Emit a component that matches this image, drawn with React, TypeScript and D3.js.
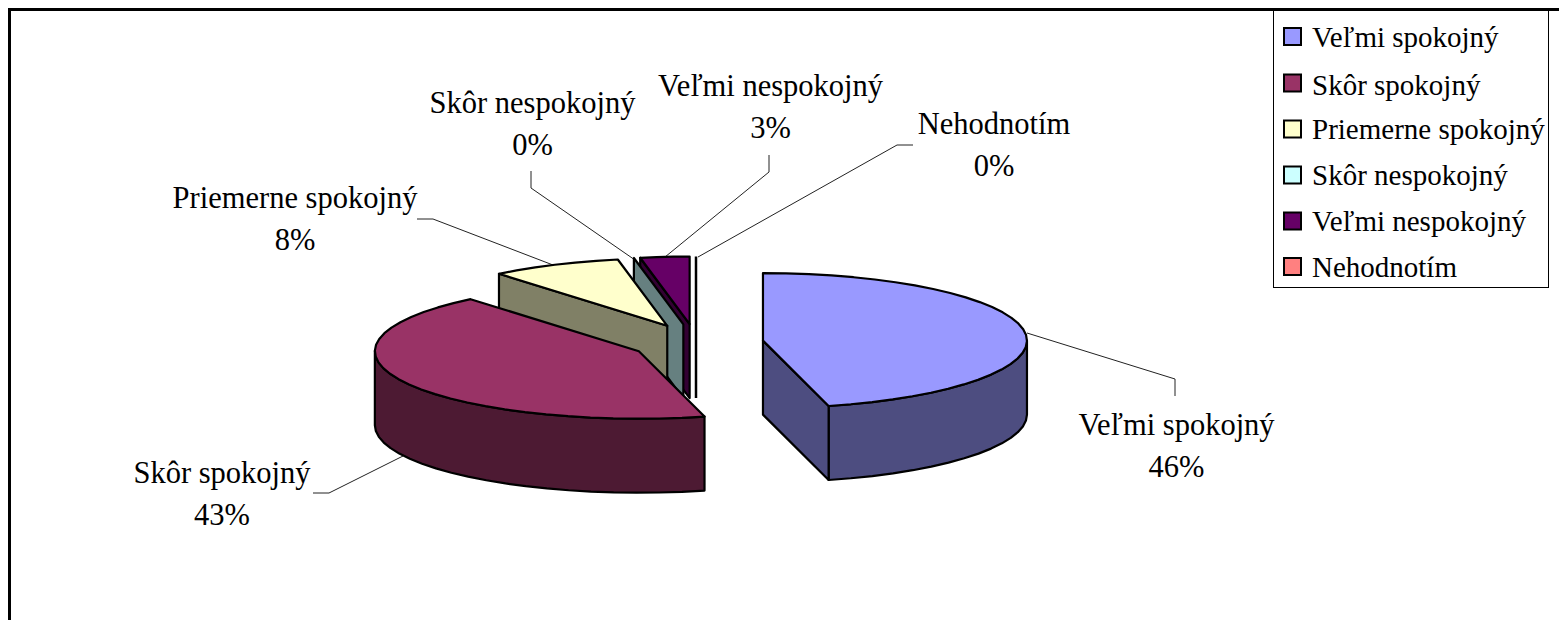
import React from "react";
import * as d3 from "d3";

const categories = ["Veľmi spokojný", "Skôr spokojný", "Priemerne spokojný", "Skôr nespokojný", "Veľmi nespokojný", "Nehodnotím"];
const values = [46, 43, 8, 0, 3, 0];
const explosion = [1, 0.95, 1, 1, 1, 1];
const topColors = ["#9999FF", "#993366", "#FFFFCC", "#CCFFFF", "#660066", "#FF8080"];
const wallColors = ["#4D4D80", "#4D1A33", "#808066", "#668080", "#330033", "#804040"];
const labelPos: [number, number][] = [[1176.5, 435], [222, 483], [295, 208], [532.5, 113], [770.5, 96], [994, 134]];
const leaders: [number, number][][] = [
  [[1027, 333], [1175, 379], [1175, 396]],
  [[403, 456], [329, 493], [313, 493]],
  [[553, 265], [433, 219], [417, 219]],
  [[635, 260], [531, 188], [531, 171]],
  [[665, 257], [769, 172], [769, 155]],
  [[698, 257], [897, 145], [913, 145]],
];
const legendSwatchRows = [36.5, 83, 129, 175, 221, 266.5];
const legendTextRows = [46.7, 95, 139, 185, 231, 277];

const W = 1559, H = 620;
const CX = 696, CY = 343, RX = 264, RY = 67.5, DEPTH = 74, EX = 67.5, EY = 19;
const FONT = "'Liberation Serif', 'Times New Roman', serif";

const pieGen = d3.pie<number>().sort(null).value((d) => d);
const arcs = pieGen(values);
const line = d3.line<[number, number]>();

function sample(a0: number, a1: number, c: [number, number], dy = 0): [number, number][] {
  const n = Math.max(1, Math.ceil(Math.abs(a1 - a0) / 0.09));
  return d3.range(n + 1).map((i) => {
    const a = a0 + ((a1 - a0) * i) / n;
    return [c[0] + RX * Math.sin(a), c[1] - RY * Math.cos(a) + dy] as [number, number];
  });
}

function Slice({ i }: { i: number }) {
  const { startAngle: s, endAngle: e } = arcs[i];
  const m = (s + e) / 2;
  const c: [number, number] = [CX + explosion[i] * EX * Math.sin(m), CY - explosion[i] * EY * Math.cos(m)];
  const stroke = { stroke: "#000", strokeWidth: 2.2, strokeLinejoin: "round" as const };
  const wall = wallColors[i];
  const p = (a: number, dy = 0) => sample(a, a, c, dy)[0];
  const parts: React.ReactNode[] = [];
  if (e - s < 1e-6) {
    // zero-sized slice: only its radial wall can be seen
    const quad: [number, number][] = [c, p(s), p(s, DEPTH), [c[0], c[1] + DEPTH]];
    if (s >= 2 * Math.PI - 1e-6) {
      return <path d={line([p(s), [c[0], c[1] + DEPTH]])!} fill="none" stroke="#000" strokeWidth={2.5} />;
    }
    return <path d={line(quad)! + "Z"} fill={wall} {...stroke} />;
  }
  if (s > Math.PI && s < 2 * Math.PI) {
    parts.push(<path key="sw" d={line([c, p(s), p(s, DEPTH), [c[0], c[1] + DEPTH]])! + "Z"} fill={wall} {...stroke} />);
  }
  const f0 = Math.max(s, Math.PI / 2), f1 = Math.min(e, 1.5 * Math.PI);
  if (f1 > f0) {
    const top = sample(f0, f1, c);
    const bot = sample(f1, f0, c, DEPTH);
    parts.push(<path key="fw" d={line([...top, ...bot])! + "Z"} fill={wall} {...stroke} />);
  }
  if (e > 0 && e < Math.PI) {
    parts.push(<path key="ew" d={line([c, p(e), p(e, DEPTH), [c[0], c[1] + DEPTH]])! + "Z"} fill={wall} {...stroke} />);
  }
  parts.push(<path key="top" d={line([c, ...sample(s, e, c)])! + "Z"} fill={topColors[i]} {...stroke} />);
  return <g>{parts}</g>;
}

export default function App() {
  const total = d3.sum(values);
  const order = d3.range(values.length).reverse();
  return (
    <svg width={W} height={H} style={{ position: "absolute", left: 0, top: 0, display: "block", background: "#fff" }} fontFamily={FONT}>
      <path d={`M9.5 620V9.5H${W}`} fill="none" stroke="#000" strokeWidth={3} />
      {leaders.map((l, i) => (
        <path key={i} d={line(l)!} fill="none" stroke="#222" strokeWidth={1} />
      ))}
      {order.map((i) => <Slice key={i} i={i} />)}
      {categories.map((c, i) => (
        <text key={c} x={labelPos[i][0]} y={labelPos[i][1]} textAnchor="middle" fill="#000" fontSize={30.5}>
          <tspan x={labelPos[i][0]}>{c}</tspan>
          <tspan x={labelPos[i][0]} dy={42}>{d3.format(".0%")(values[i] / total)}</tspan>
        </text>
      ))}
      <rect x={1273.5} y={10.5} width={275} height={277} fill="#fff" stroke="#000" strokeWidth={1} />
      {categories.map((c, i) => (
        <g key={c}>
          <rect x={1284} y={legendSwatchRows[i] - 8.5} width={17} height={17} fill={topColors[i]} stroke="#000" strokeWidth={2} />
          <text x={1312} y={legendTextRows[i]} fill="#000" fontSize={29}>{c}</text>
        </g>
      ))}
    </svg>
  );
}
